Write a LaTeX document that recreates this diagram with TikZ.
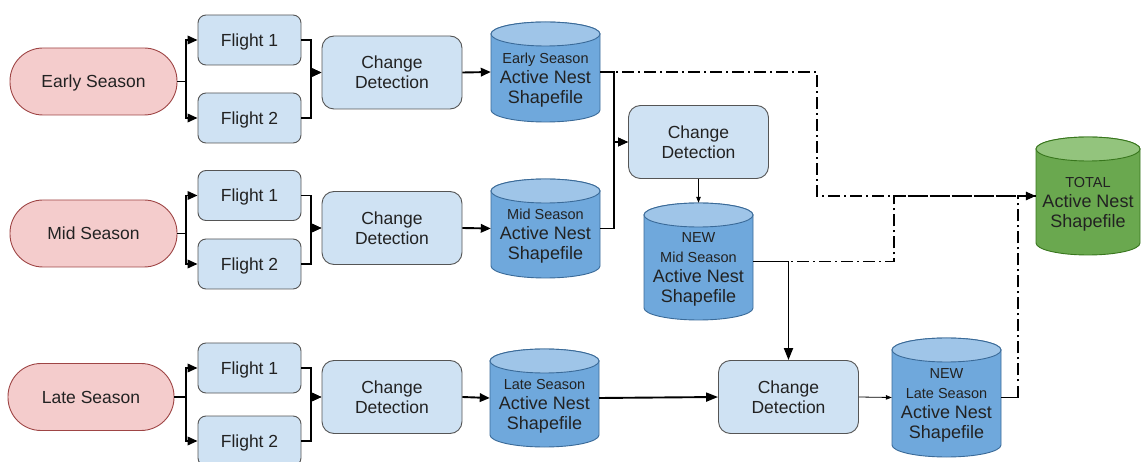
\documentclass[tikz,border=0pt]{standalone}
\usepackage{fontspec}
\setmainfont{Liberation Sans}
\usetikzlibrary{arrows.meta}

\definecolor{seasonfill}{HTML}{F4CCCC}
\definecolor{seasonline}{HTML}{9E4545}
\definecolor{boxfill}{HTML}{CFE2F3}
\definecolor{boxline}{HTML}{555555}
\definecolor{dbbody}{HTML}{6FA8DC}
\definecolor{dbend}{HTML}{9FC5E8}
\definecolor{dbline}{HTML}{3A6A98}
\definecolor{totbody}{HTML}{6AA84F}
\definecolor{totend}{HTML}{93C47D}
\definecolor{totline}{HTML}{38761D}
\definecolor{ink}{HTML}{222222}

\tikzset{
  season/.style={draw=seasonline, fill=seasonfill, line width=0.9pt,
    rounded corners=33pt, minimum width=167pt, minimum height=67pt,
    text depth=0pt, text=ink, font=\fontsize{17.5}{20}\selectfont},
  flightbox/.style={draw=boxline, fill=boxfill, line width=0.9pt,
    rounded corners=8pt, minimum width=103pt, minimum height=50pt,
    text depth=0pt, text=ink, font=\fontsize{17.5}{20}\selectfont},
  cdbox/.style={draw=boxline, fill=boxfill, line width=0.9pt,
    rounded corners=12pt, minimum width=140pt, minimum height=73pt,
    align=center, text=ink, font=\fontsize{17.5}{20}\selectfont},
  cylline/.style={line width=0.9pt},
  cyltext/.style={align=center, text=ink, inner sep=0pt,
    font=\fontsize{18}{20}\selectfont},
  conn/.style={line width=1.9pt, -{Triangle[length=10pt,width=8.5pt]}},
  thinconn/.style={line width=0.8pt, -{Triangle[length=6pt,width=4.5pt]}},
  bigconn/.style={line width=1.9pt, -{Triangle[length=12pt,width=9pt]}},
  dashdot/.style={line width=1.4pt, dash pattern=on 12pt off 4pt on 2pt off 4pt},
}

\newcommand\sm[1]{{\fontsize{14.5}{18}\selectfont #1}}

% name, centre x, top y, bottom y, half width, body colour, end colour, line colour, text
\newcommand\dbcyl[9]{%
  \path[cylline, draw=#8, fill=#6] ({#2-#5},{#3+12}) -- ({#2-#5},{#4-12})
    arc[start angle=180, end angle=360, x radius=#5pt, y radius=12pt]
    -- ({#2+#5},{#3+12})
    arc[start angle=0, end angle=180, x radius=#5pt, y radius=12pt] -- cycle;
  \path[cylline, draw=#8, fill=#7] (#2,{#3+12}) ellipse[x radius=#5pt, y radius=12pt];
  \node[inner sep=0pt, minimum width=2*#5, minimum height=#4-#3]
    (#1) at (#2,{(#3+#4)/2}) {};
  \node[cyltext] at ([yshift=-8pt]#1.center) {#9};
}

\begin{document}
\begin{tikzpicture}[x=1pt, y=-1pt]
\useasboundingbox (0,0) rectangle (1141,462);

% season starts
\node[season] (es) at (93.5,81.5) {Early Season};
\node[season] (ms) at (93.5,233.5) {Mid Season};
\node[season, minimum width=166pt] (ls) at (91,397) {Late Season};

% flights
\node[flightbox] (ef1) at (249.5,40) {Flight 1};
\node[flightbox] (ef2) at (249.5,118) {Flight 2};
\node[flightbox] (mf1) at (249.5,195.5) {Flight 1};
\node[flightbox] (mf2) at (249.5,264) {Flight 2};
\node[flightbox] (lf1) at (249.5,368) {Flight 1};
\node[flightbox] (lf2) at (249.5,441) {Flight 2};

% first change detection per season
\node[cdbox] (ecd) at (392,72.5) {Change\\Detection};
\node[cdbox] (mcd) at (392,228) {Change\\Detection};
\node[cdbox] (lcd) at (392,397) {Change\\Detection};

% shapefiles
\dbcyl{ecyl}{545.5}{22}{122}{54.5}{dbbody}{dbend}{dbline}{\sm{Early Season}\\Active Nest\\Shapefile}
\dbcyl{mcyl}{545.5}{179}{278}{54.5}{dbbody}{dbend}{dbline}{\sm{Mid Season}\\Active Nest\\Shapefile}
\dbcyl{lcyl}{544.5}{349}{447}{54.5}{dbbody}{dbend}{dbline}{\sm{Late Season}\\Active Nest\\Shapefile}

% second-level change detection
\node[cdbox] (cd2) at (698.5,142) {Change\\Detection};
\node[cdbox] (cd3) at (788.5,397) {Change\\Detection};

\dbcyl{ncyl}{698.5}{203}{320}{54.5}{dbbody}{dbend}{dbline}{\sm{NEW}\\\sm{Mid Season}\\Active Nest\\Shapefile}
\dbcyl{nlcyl}{946.5}{338}{457}{54.5}{dbbody}{dbend}{dbline}{\sm{NEW}\\\sm{Late Season}\\Active Nest\\Shapefile}
\dbcyl{total}{1088}{137}{255}{52}{totbody}{totend}{totline}{\sm{TOTAL}\\Active Nest\\Shapefile}

% merge points on the way to the total
\coordinate (j1) at (817,196);
\coordinate (j2) at (894,196);
\coordinate (j3) at (1018,196);

% season -> flights
\foreach \s/\a/\b in {es/ef1/ef2, ms/mf1/mf2, ls/lf1/lf2}{
  \draw[conn] (\s.east) -| ([xshift=-12pt]\a.west) -- (\a.west);
  \draw[conn] (\s.east) -| ([xshift=-12pt]\b.west) -- (\b.west);
}
% flights -> change detection
\foreach \a/\b/\c in {ef1/ef2/ecd, mf1/mf2/mcd, lf1/lf2/lcd}{
  \draw[conn] (\a.east) -| ([xshift=-11pt]\c.west) -- (\c.west);
  \draw[conn] (\b.east) -| ([xshift=-11pt]\c.west) -- (\c.west);
}
% change detection -> shapefiles
\draw[conn] (ecd.east) -- (ecyl.west);
\draw[conn] (mcd.east) -- (mcyl.west);
\draw[conn] (lcd.east) -- (lcyl.west);

% early + mid -> change detection -> new mid
\draw[conn] (ecyl.east) -| ([xshift=-14pt]cd2.west) -- (cd2.west);
\draw[conn] (mcyl.east) -| ([xshift=-14pt]cd2.west) -- (cd2.west);
\draw[thinconn] (cd2.south) -- (ncyl.north);

% late + new mid -> change detection -> new late
\draw[bigconn] (lcyl.east) -- (cd3.west);
\draw[bigconn] (ncyl.east) -| (cd3.north);
\draw[thinconn] (cd3.east) -- (nlcyl.west);

% everything collected into the total
\draw[dashdot] (ecyl.east) -| (j1) -- (total.west);
\draw[dashdot] (ncyl.east) -| (j2) -- (total.west);
\draw[line width=1.4pt] (nlcyl.east) -- (nlcyl.east -| j3);
\draw[dashdot] (nlcyl.east -| j3) -- (j3) -- (total.west);
\draw[line width=1.4pt, -{Triangle[length=10pt,width=8.5pt]}] ([xshift=-12pt]total.west) -- (total.west);
\end{tikzpicture}
\end{document}
